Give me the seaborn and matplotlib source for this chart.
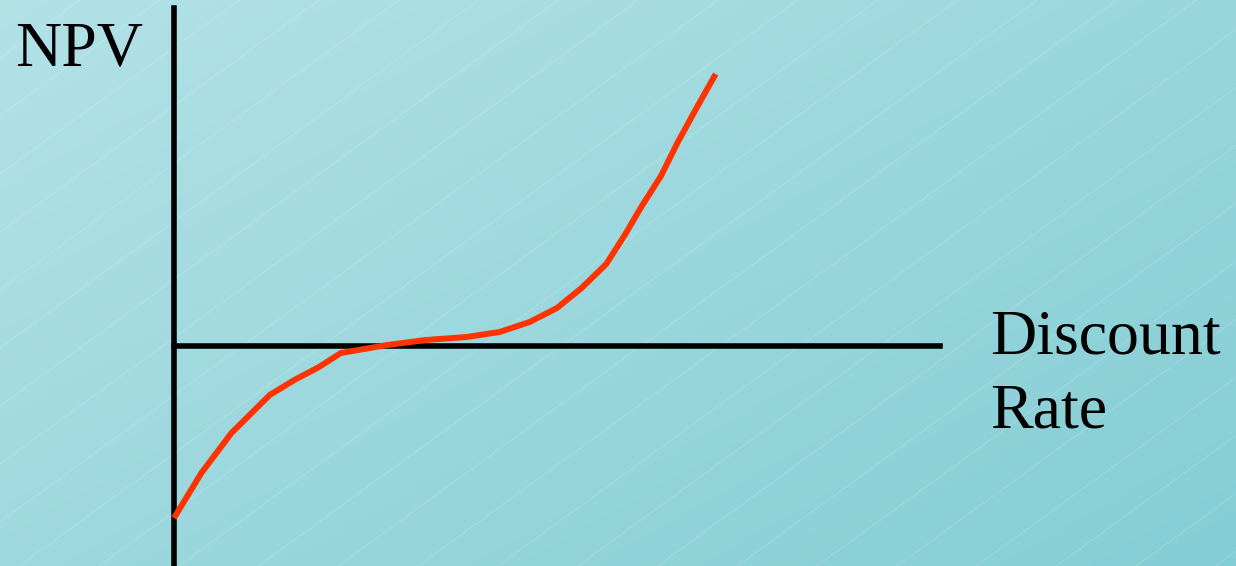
import numpy as np
import pandas as pd
import matplotlib
matplotlib.use("Agg")
import matplotlib.pyplot as plt
import seaborn as sns

# Data (arbitrary units)
discount_rate = [0.0, 1.0, 2.1, 3.5, 4.4, 5.3, 6.1, 7.8, 9.2, 10.7, 11.9,
                 13.0, 14.0, 14.9, 15.8, 16.5, 17.1, 17.8, 18.4, 19.1, 19.8]
npv = [-17.2, -12.7, -8.7, -4.9, -3.4, -2.1, -0.7, 0.1, 0.6, 0.9, 1.4,
       2.4, 3.8, 5.8, 8.2, 11.2, 14.0, 17.0, 20.3, 23.8, 27.2]
y_label = "NPV"
x_label_lines = ["Discount", "Rate"]

sns.set_theme(style="white")
plt.rcParams["font.family"] = ["Liberation Serif", "DejaVu Serif"]

W, H = 1236, 566
fig = plt.figure(figsize=(W / 100, H / 100), dpi=100)

# background gradient
bg = fig.add_axes([0, 0, 1, 1], zorder=0)
gx = np.linspace(0, 1, 300)
gy = np.linspace(0, 1, 140)
GX, GY = np.meshgrid(gx, gy)
t = np.clip(0.55 * GX + 0.45 * GY, 0, 1)
c0 = np.array([0xB3, 0xE2, 0xE7]) / 255
c1 = np.array([0x84, 0xCD, 0xD4]) / 255
img = c0[None, None, :] * (1 - t[..., None]) + c1[None, None, :] * t[..., None]
bg.imshow(img, extent=[0, W, H, 0], aspect="auto", interpolation="bilinear")
# faint diagonal texture lines
slope = 0.727
for b in np.arange(0, 1600, 58):
    xs = np.array([0, W])
    ys = b - slope * xs
    bg.plot(xs, ys, color="white", alpha=0.2, lw=0.6)
bg.set_xlim(0, W)
bg.set_ylim(H, 0)
bg.axis("off")

# main axes: pixel -> data mapping
ax = fig.add_axes([0, 0, 1, 1], zorder=1)
ax.patch.set_alpha(0)
px_per_x = 766 / 28
px_per_y = 10
ax.set_xlim(-174 / px_per_x, (W - 174) / px_per_x)
ax.set_ylim(-(H - 346) / px_per_y, 346 / px_per_y)

df = pd.DataFrame({"rate": discount_rate, "npv": npv})
sns.lineplot(data=df, x="rate", y="npv", ax=ax, color="#FF3300", lw=4.3,
             sort=False, solid_joinstyle="miter", solid_capstyle="butt")

for side in ["top", "right"]:
    ax.spines[side].set_visible(False)
ax.spines["left"].set_position(("data", 0))
ax.spines["bottom"].set_position(("data", 0))
ax.spines["left"].set_bounds(-(H - 346) / px_per_y - 1, (346 - 8) / px_per_y)
ax.spines["bottom"].set_bounds(0, 28)
for s in ["left", "bottom"]:
    ax.spines[s].set_color("black")
    ax.spines[s].set_linewidth(4.0)
    ax.spines[s].set_zorder(1)
ax.set_xticks([])
ax.set_yticks([])
ax.set_xlabel("")
ax.set_ylabel("")

fig.text(15 / W, (H - 65) / H, y_label, fontsize=46, va="baseline", ha="left",
         color="black")
fig.text(990 / W, (H - 353) / H, x_label_lines[0], fontsize=46, va="baseline",
         ha="left", color="black")
fig.text(990 / W, (H - 428) / H, x_label_lines[1], fontsize=46, va="baseline",
         ha="left", color="black")

fig.savefig("out.png", dpi=100)
